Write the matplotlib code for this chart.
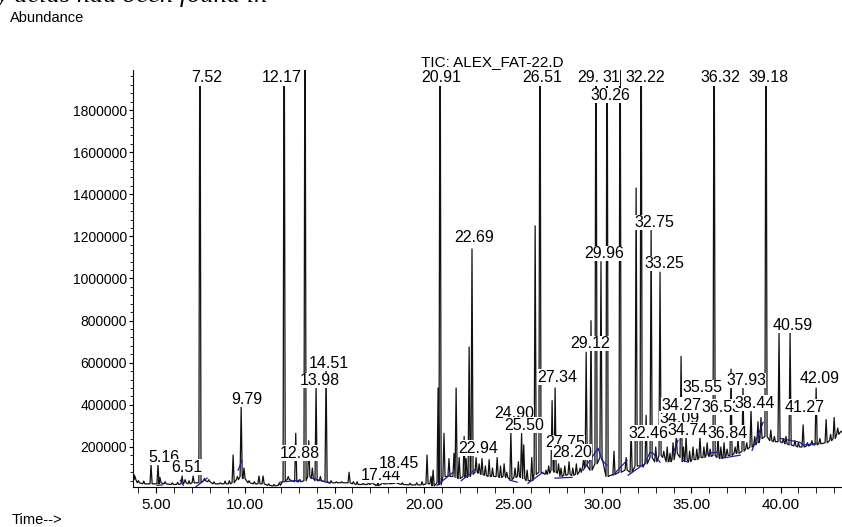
import matplotlib.pyplot as plt
from matplotlib.ticker import MultipleLocator, FixedLocator

plt.rcParams['font.family'] = ['Liberation Sans', 'DejaVu Sans']

# picos del cromatograma: tiempo (min), altura del apice, nivel de la base
pk_t = [3.72, 3.80, 4.00, 4.30, 4.71, 5.10, 5.21, 5.50, 5.90, 6.20, 6.45, 6.62, 6.84,
        7.07, 7.45, 7.70, 7.95, 8.24, 8.60, 8.86, 9.10, 9.31, 9.55, 9.76, 9.92,
        10.20, 10.50, 10.76, 10.99, 11.30, 11.60, 11.90, 12.17, 12.40, 12.82, 13.05,
        13.34, 13.55, 13.75, 13.96, 14.20, 14.52, 14.80, 15.10, 15.40, 15.81, 16.05,
        16.26, 16.60, 16.90, 17.10, 17.43, 17.70, 18.00, 18.44, 18.80, 19.23, 19.60,
        19.90, 20.18, 20.40, 20.52, 20.80, 20.91, 21.13, 21.41, 21.69, 21.81, 21.98,
        22.26, 22.37, 22.54, 22.70, 22.93, 23.10, 23.26, 23.45, 23.66, 23.85, 24.11,
        24.30, 24.50, 24.65, 24.88, 25.11, 25.30, 25.48, 25.60, 25.79, 26.05, 26.24,
        26.51, 26.85, 27.00, 27.19, 27.36, 27.55, 27.69, 27.90, 28.14, 28.35, 28.55,
        28.76, 28.95, 29.10, 29.37, 29.65, 29.93, 30.27, 30.66, 31.00, 31.34, 31.62,
        31.90, 32.18, 32.46, 32.74, 33.00, 33.24, 33.45, 33.64, 33.80, 33.97, 34.15,
        34.42, 34.55, 34.70, 34.90, 35.09, 35.30, 35.48, 35.70, 35.88, 36.05, 36.27,
        36.49, 36.65, 36.83, 37.00, 37.22, 37.45, 37.61, 37.89, 38.10, 38.34, 38.55,
        38.73, 38.90, 39.18, 39.45, 39.65, 39.91, 40.15, 40.30, 40.53, 40.80, 41.00,
        41.26, 41.50, 41.75, 41.99, 42.20, 42.55, 42.80, 43.00, 43.20, 43.40]
pk_top = [66000, 62000, 40000, 38000, 115000, 115000, 55000, 35000, 30000, 32000, 62000, 45000, 40000,
          62000, 2600000, 50000, 45000, 35000, 30000, 38000, 40000, 162000, 60000, 390000, 100000,
          40000, 35000, 62000, 62000, 25000, 22000, 30000, 2600000, 60000, 265000, 45000,
          2600000, 230000, 100000, 490000, 60000, 570000, 40000, 35000, 35000, 80000, 35000,
          35000, 28000, 30000, 40000, 30000, 35000, 38000, 40000, 30000, 28000, 30000,
          35000, 162000, 60000, 90000, 480000, 2600000, 265000, 145000, 170000, 480000, 150000,
          250000, 145000, 675000, 1140000, 150000, 120000, 145000, 110000, 140000, 100000, 150000,
          110000, 120000, 80000, 270000, 100000, 130000, 265000, 210000, 90000, 150000, 1250000,
          2600000, 90000, 110000, 420000, 480000, 120000, 100000, 110000, 130000, 100000, 120000,
          100000, 140000, 650000, 800000, 2600000, 1080000, 2600000, 180000, 2600000, 150000, 280000,
          1430000, 2600000, 350000, 1230000, 200000, 1030000, 180000, 200000, 170000, 220000, 250000,
          630000, 200000, 250000, 180000, 200000, 190000, 250000, 200000, 220000, 190000, 2600000,
          250000, 200000, 220000, 190000, 570000, 200000, 240000, 480000, 220000, 375000, 250000,
          320000, 340000, 2600000, 280000, 250000, 745000, 240000, 250000, 745000, 230000, 220000,
          305000, 220000, 230000, 480000, 240000, 330000, 260000, 340000, 290000, 275000]
pk_foot = [66000, 45000, 30000, 25000, 25000, 25000, 30000, 25000, 22000, 22000, 25000, 30000, 25000,
           30000, 30000, 40000, 35000, 25000, 25000, 25000, 25000, 30000, 45000, 60000, 50000,
           30000, 25000, 25000, 25000, 18000, 15000, 18000, 40000, 45000, 35000, 35000,
           40000, 60000, 50000, 40000, 40000, 35000, 30000, 30000, 30000, 30000, 25000,
           22000, 22000, 22000, 25000, 18000, 25000, 25000, 28000, 22000, 20000, 20000,
           20000, 25000, 25000, 15000, 30000, 20000, 60000, 60000, 60000, 55000, 50000,
           60000, 55000, 60000, 70000, 80000, 75000, 70000, 65000, 60000, 60000, 60000,
           55000, 60000, 55000, 45000, 55000, 60000, 55000, 50000, 40000, 40000, 70000,
           80000, 70000, 75000, 90000, 80000, 75000, 60000, 65000, 70000, 65000, 70000,
           80000, 100000, 110000, 90000, 120000, 150000, 60000, 70000, 80000, 90000, 80000,
           110000, 110000, 120000, 150000, 130000, 160000, 150000, 130000, 130000, 140000, 170000,
           150000, 130000, 140000, 130000, 140000, 140000, 150000, 150000, 160000, 155000, 160000,
           150000, 145000, 150000, 160000, 160000, 170000, 170000, 180000, 190000, 200000, 210000,
           220000, 240000, 250000, 230000, 225000, 225000, 220000, 215000, 210000, 205000, 200000,
           200000, 205000, 210000, 210000, 215000, 220000, 230000, 240000, 260000, 270000]

# linea base de integracion (azul), tramos (tiempo, abundancia)
base_segments = [
    [(5.05, 18000), (5.35, 20000)],
    [(6.35, 42000), (6.52, 18000)],
    [(7.18, 8000), (7.85, 52000)],
    [(9.59, 90000), (9.81, 137000)],
    [(11.94, 33000), (13.06, 42000)],
    [(13.73, 52000), (14.74, 28000)],
    [(17.27, 18000), (17.43, 18000)],
    [(18.28, 42000), (18.39, 33000)],
    [(20.74, 18000), (21.64, 80000)],
    [(22.10, 40000), (22.90, 95000)],
    [(24.83, 42000), (25.23, 33000)],
    [(25.84, 28000), (26.68, 80000)],
    [(27.36, 52000), (28.31, 56000)],
    [(28.93, 90000), (29.77, 194000), (29.99, 137000), (30.27, 113000)],
    [(30.61, 66000), (31.39, 137000)],
    [(31.45, 66000), (32.24, 113000), (32.29, 104000), (32.68, 175000), (32.85, 170000), (33.24, 128000)],
    [(33.97, 170000), (34.25, 232000)],
    [(34.53, 137000), (34.81, 128000)],
    [(35.88, 170000), (36.44, 175000)],
    [(36.72, 147000), (37.73, 161000)],
    [(38.40, 184000), (39.02, 317000)],
    [(39.97, 241000), (41.09, 222000), (41.26, 208000), (42.04, 218000)],
]

# etiquetas de los picos: texto, posicion (min) y altura
lab_txt = ["5.16", "6.51", "7.52", "9.79", "12.17", "12.88", "13.98", "14.51", "17.44",
           "18.45", "20.91", "22.69", "22.94", "24.90", "25.50", "26.51", "27.34", "27.75",
           "28.20", "29.12", "29.", "31", "30.26", "32.22", "29.96", "32.75",
           "33.25", "32.46", "34.09", "34.27", "34.74", "35.55", "36.32", "36.53", "36.84",
           "37.93", "38.44", "39.18", "40.59", "41.27", "42.09"]
lab_x = [5.44, 6.70, 7.85, 10.06, 12.05, 13.06, 14.18, 14.69, 17.60,
         18.61, 20.97, 22.80, 23.04, 25.06, 25.62, 26.63, 27.47, 27.92,
         28.31, 29.32, 29.23, 30.50, 30.44, 32.40, 30.10, 32.91,
         33.47, 32.57, 34.31, 34.42, 34.81, 35.60, 36.61, 36.66, 37.00,
         38.06, 38.57, 39.30, 40.70, 41.37, 42.21]
lab_y = [151000, 104000, 1953000, 427000, 1953000, 170000, 516000, 597000, 66000,
         123000, 1953000, 1195000, 194000, 360000, 303000, 1953000, 531000, 222000,
         175000, 692000, 1953000, 1953000, 1868000, 1953000, 1119000, 1266000,
         1071000, 265000, 336000, 398000, 280000, 483000, 1953000, 389000, 265000,
         516000, 408000, 1953000, 777000, 389000, 526000]

y_ticks = [200000, 400000, 600000, 800000, 1000000, 1200000, 1400000, 1600000, 1800000]
x_ticks = [5, 10, 15, 20, 25, 30, 35, 40]

fig = plt.figure(figsize=(8.42, 5.27), dpi=100)
ax = fig.add_axes([0.158, 0.0759, 0.842, 0.7913])

# trazo TIC
w = 0.06
ts, vs = [], []
for t, top, foot in zip(pk_t, pk_top, pk_foot):
    ts += [t - w, t, t + w]
    vs += [foot, top, foot]
ax.plot(ts, vs, color='#111111', lw=0.9)

for seg in base_segments:
    ax.plot([p[0] for p in seg], [p[1] for p in seg], color='#1c1c9e', lw=0.9)

for txt, lx, ly in zip(lab_txt, lab_x, lab_y):
    ax.text(lx, ly, txt, ha='center', va='center', fontsize=11.5, zorder=5,
            bbox=dict(facecolor='white', edgecolor='none', pad=0.2))

ax.set_xlim(3.70, 43.44)
ax.set_ylim(10000, 1990000)
ax.spines['top'].set_visible(False)
ax.spines['right'].set_visible(False)
ax.yaxis.set_major_locator(FixedLocator(y_ticks))
ax.yaxis.set_minor_locator(MultipleLocator(40000))
ax.set_yticklabels([str(v) for v in y_ticks])
ax.xaxis.set_major_locator(FixedLocator(x_ticks))
ax.xaxis.set_minor_locator(MultipleLocator(1))
ax.set_xticklabels(["%.2f" % v for v in x_ticks])
ax.tick_params(axis='y', which='major', length=3, pad=1.5, labelsize=10)
ax.tick_params(axis='y', which='minor', length=2)
ax.tick_params(axis='x', which='both', length=4, pad=4, labelsize=11)

fig.text(492 / 842, 1 - 62 / 527, "TIC: ALEX_FAT-22.D", ha='center', va='center', fontsize=11)
fig.text(10 / 842, 1 - 18 / 527, "Abundance", ha='left', va='center', fontsize=10.5)
fig.text(12 / 842, 1 - 520 / 527, "Time-->", ha='left', va='center', fontsize=10.5)
# texto del documento cortado arriba
fig.text(-0.005, 1 - 2 / 527, "y acids had been found in", ha='left', va='baseline',
         fontsize=19, style='italic', family='Liberation Serif')

fig.savefig("out.png", dpi=100)
